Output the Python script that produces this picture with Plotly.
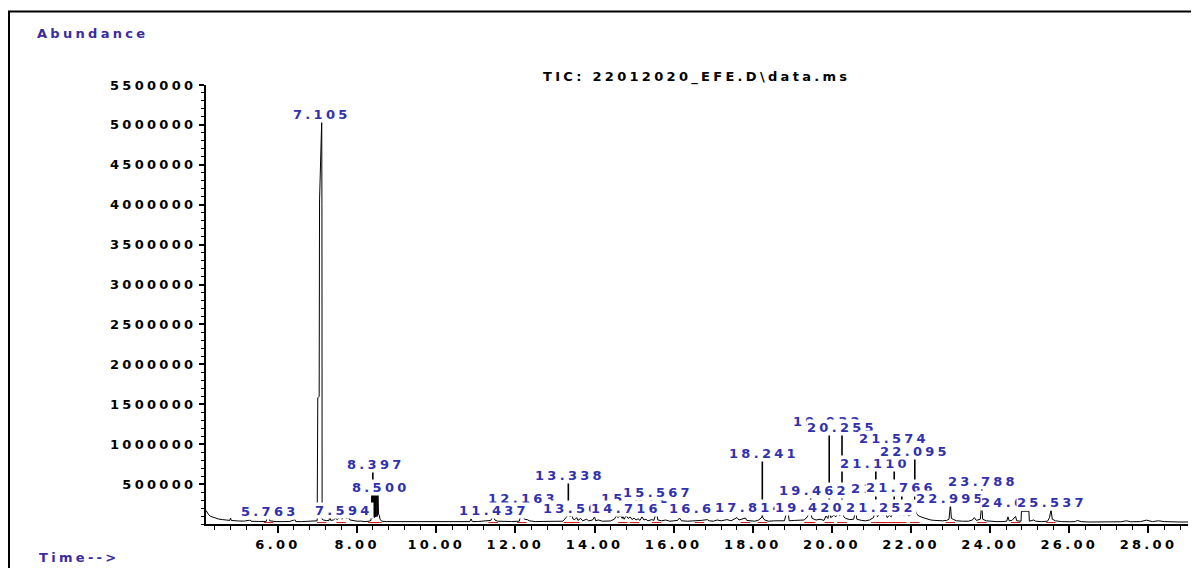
import numpy as np
import plotly.graph_objects as go

# ---------------- data ----------------
rt_min = [
    4.18, 4.20, 4.25, 4.30, 4.40, 4.50, 4.60, 4.70, 4.78, 4.80, 4.82, 5.00, 5.15, 5.30, 5.32, 5.50,
    5.70, 5.74, 5.763, 5.79, 5.95, 6.15, 6.30, 6.43, 6.45, 6.60, 6.80, 6.99,
    7.005, 7.04, 7.05, 7.105, 7.110, 7.112, 7.115, 7.15, 7.22, 7.29, 7.31, 7.33, 7.40, 7.45, 7.50,
    7.55, 7.594, 7.62, 7.68, 7.72, 7.78, 7.82, 7.90, 8.00, 8.10, 8.20, 8.30, 8.35,
    8.37, 8.38, 8.39, 8.40, 8.41, 8.42, 8.43, 8.44, 8.45, 8.46, 8.47, 8.48, 8.49, 8.50, 8.51, 8.52,
    8.53, 8.54, 8.56, 8.58, 8.62, 8.75, 8.90, 9.10, 9.30, 9.50, 9.70, 9.90, 10.10, 10.30, 10.50,
    10.70, 10.85, 10.88, 10.91, 11.05, 11.20, 11.38, 11.437, 11.48, 11.55, 11.70, 11.90, 12.10,
    12.13, 12.163, 12.20, 12.23, 12.30, 12.35, 12.50, 12.70, 12.90, 13.10, 13.20, 13.28, 13.338,
    13.38, 13.42, 13.46, 13.50, 13.55, 13.58, 13.65, 13.70, 13.80, 13.85, 13.95, 14.00, 14.03,
    14.10, 14.20, 14.30, 14.40, 14.50, 14.55, 14.60, 14.65, 14.70, 14.716, 14.75, 14.80, 14.85,
    14.90, 14.95, 15.00, 15.05, 15.10, 15.15, 15.20, 15.25, 15.30, 15.35, 15.45, 15.50, 15.567,
    15.60, 15.70, 15.80, 15.90, 16.00, 16.10, 16.15, 16.20, 16.35, 16.50, 16.60, 16.70, 16.85,
    16.90, 17.00, 17.10, 17.20, 17.35, 17.45, 17.55, 17.60, 17.65, 17.75, 17.814, 17.85, 17.95,
    18.05, 18.15, 18.241, 18.30, 18.40, 18.55, 18.70, 18.80, 18.88, 18.92, 19.05, 19.15, 19.30,
    19.38, 19.42, 19.462, 19.50, 19.60, 19.70, 19.80, 19.85, 19.90, 19.932, 19.97, 20.05, 20.10,
    20.15, 20.20, 20.255, 20.30, 20.35, 20.45, 20.55, 20.60, 20.63, 20.75, 20.85, 20.95, 21.05,
    21.11, 21.15, 21.20, 21.252, 21.30, 21.352, 21.40, 21.45, 21.50, 21.574, 21.62, 21.68, 21.72,
    21.766, 21.82, 21.88, 21.94, 22.00, 22.05, 22.095, 22.15, 22.20, 22.30, 22.40, 22.50, 22.60,
    22.70, 22.80, 22.90, 22.96, 22.995, 23.02, 23.08, 23.15, 23.30, 23.45, 23.55, 23.60, 23.65,
    23.75, 23.788, 23.81, 23.90, 24.00, 24.15, 24.30, 24.42, 24.45, 24.48, 24.55, 24.60, 24.643,
    24.67, 24.72, 24.78, 24.79, 24.98, 24.99, 25.10, 25.15, 25.30, 25.45, 25.50, 25.537, 25.57,
    25.65, 25.80, 26.00, 26.15, 26.20, 26.30, 26.50, 26.80, 27.00, 27.30, 27.45, 27.55, 27.80,
    27.95, 28.10, 28.25, 28.40, 28.60, 28.80, 29.00,
]
abundance_k = [
    170, 150, 115, 95, 75, 62, 55, 48, 45, 75, 44, 38, 36, 50, 34, 32,
    32, 95, 110, 40, 30, 30, 32, 55, 30, 30, 32, 40,
    1580, 1600, 4060, 5060, 4000, 1580, 60, 50, 42, 45, 100, 45, 50, 72, 55,
    82, 95, 60, 110, 68, 85, 50, 40, 35, 36, 30, 35, 45,
    390, 70, 392, 85, 388, 90, 386, 80, 390, 88, 388, 92, 390, 393, 95, 389,
    385, 125, 110, 60, 35, 30, 30, 28, 29, 30, 28, 28, 29, 30, 28,
    30, 30, 65, 30, 31, 35, 45, 110, 50, 35, 30, 31, 35,
    110, 115, 108, 60, 55, 40, 30, 32, 30, 31, 35, 80, 120,
    90, 115, 60, 55, 80, 45, 70, 40, 60, 40, 50, 90, 40,
    50, 35, 40, 38, 60, 100, 80, 110, 70, 95, 60, 105, 70,
    90, 55, 75, 50, 65, 45, 90, 50, 60, 40, 55, 45, 160,
    50, 40, 50, 35, 40, 45, 75, 40, 35, 40, 35, 45, 55,
    40, 35, 50, 40, 55, 40, 70, 80, 50, 60, 75, 45, 40,
    35, 50, 90, 50, 35, 40, 35, 40, 200, 40, 45, 45, 50,
    90, 140, 150, 70, 50, 60, 45, 100, 70, 160, 80, 110, 90,
    130, 100, 180, 90, 70, 55, 60, 170, 60, 45, 40, 50, 80,
    180, 90, 120, 190, 110, 140, 80, 110, 90, 230, 120, 150, 110,
    170, 110, 140, 100, 120, 150, 190, 120, 100, 80, 60, 50, 45,
    40, 40, 45, 60, 250, 70, 55, 40, 35, 35, 50, 80, 45,
    60, 250, 60, 40, 35, 30, 30, 35, 90, 40, 45, 80, 95,
    40, 35, 35, 160, 160, 35, 50, 35, 30, 35, 80, 180, 60,
    40, 30, 28, 30, 45, 30, 25, 25, 25, 28, 40, 28, 30,
    48, 30, 40, 30, 25, 25, 25,
]
abundance = [v * 1000 for v in abundance_k]

# peak labels, listed in the order they are drawn
label_text = ["5.763", "7.105", "7.594", "8.397", "8.500", "12.163", "11.437", "13.338",
              "13.502", "15.012", "14.716", "15.567", "16.652", "17.814", "18.241", "19.420",
              "19.462", "19.932", "20.255", "21.110", "21.252", "21.352", "21.574", "21.766",
              "22.095", "22.995", "23.788", "24.643", "25.537"]
label_x_min = [5.80, 7.11, 7.67, 8.48, 8.60, 12.19, 11.46, 13.38,
               13.58, 15.04, 14.79, 15.60, 16.76, 17.92, 18.28, 19.44,
               19.54, 19.89, 20.25, 21.10, 21.23, 21.36, 21.58, 21.74,
               22.09, 23.02, 23.83, 24.64, 25.55]
label_level = [162000, 5125000, 175000, 750000, 462000, 325000, 175000, 612000,
               200000, 325000, 200000, 400000, 188000, 212000, 888000, 212000,
               425000, 1288000, 1212000, 762000, 212000, 450000, 1075000, 462000,
               912000, 325000, 538000, 275000, 275000]
label_has_line = [False, False, False, True, False, False, False, True,
                  False, False, False, False, False, False, True, False,
                  True, True, True, True, False, False, True, True,
                  True, False, True, False, False]

y_tick_values = [500000, 1000000, 1500000, 2000000, 2500000, 3000000,
                 3500000, 4000000, 4500000, 5000000, 5500000]
y_tick_text = ["500000", "1000000", "1500000", "2000000", "2500000", "3000000",
               "3500000", "4000000", "4500000", "5000000", "5500000"]
x_tick_values = [6, 8, 10, 12, 14, 16, 18, 20, 22, 24, 26, 28]
x_tick_text = ["6.00", "8.00", "10.00", "12.00", "14.00", "16.00", "18.00",
               "20.00", "22.00", "24.00", "26.00", "28.00"]

title_text = "TIC: 22012020_EFE.D\\data.ms"
y_title_text = "Abundance"
x_title_text = "Time-->"

# ---------------- figure ----------------
FONT = "DejaVu Sans"
FS = 13
WEIGHT = "bold"
LABEL_BLUE = "#3030b0"
AXIS_TITLE_BLUE = "#3a2ca0"

fig = go.Figure()

# connector lines from peak apex up to its label
cx, cy = [], []
for txt, lev, has in zip(label_text, label_level, label_has_line):
    if has:
        rt = float(txt)
        top = float(np.interp(rt, rt_min, abundance))
        cx += [rt, rt, None]
        cy += [top, lev, None]
fig.add_trace(go.Scatter(x=cx, y=cy, mode="lines",
                         line=dict(color="black", width=1.6), hoverinfo="skip"))

# chromatogram
fig.add_trace(go.Scatter(x=rt_min, y=abundance, mode="lines",
                         line=dict(color="black", width=1), hoverinfo="skip"))

# red integration marks under each labelled peak
rx, ry = [], []
for txt in label_text:
    rt = float(txt)
    rx += [rt - 0.12, rt + 0.12, None]
    ry += [18000, 18000, None]
fig.add_trace(go.Scatter(x=rx, y=ry, mode="lines",
                         line=dict(color="#d01818", width=1), hoverinfo="skip"))

annotations = []
for txt, lx, lev in zip(label_text, label_x_min, label_level):
    annotations.append(dict(x=lx, y=lev, xref="x", yref="y", text=txt, showarrow=False,
                            xanchor="center", yanchor="middle", bgcolor="white", borderpad=0,
                            font=dict(family=FONT, size=FS, color=LABEL_BLUE, weight=WEIGHT)))

annotations.append(dict(x=0.499, y=1.018, xref="paper", yref="paper", text=title_text,
                        showarrow=False, xanchor="center", yanchor="middle",
                        font=dict(family=FONT, size=FS, color="black", weight=WEIGHT)))
annotations.append(dict(x=-0.1741, y=1.118, xref="paper", yref="paper", text=y_title_text,
                        showarrow=False, xanchor="left", yanchor="middle",
                        font=dict(family=FONT, size=FS, color=AXIS_TITLE_BLUE, weight=WEIGHT)))
annotations.append(dict(x=-0.1721, y=-0.0774, xref="paper", yref="paper", text=x_title_text,
                        showarrow=False, xanchor="left", yanchor="middle",
                        font=dict(family=FONT, size=FS, color=AXIS_TITLE_BLUE, weight=WEIGHT)))

# the page body has an 8 px margin, so the figure is sized/offset to compensate
fig.update_layout(
    width=1191, height=560, autosize=False,
    margin=dict(l=198, r=11, t=77, b=44, pad=0),
    paper_bgcolor="white", plot_bgcolor="white",
    showlegend=False,
    annotations=annotations,
    shapes=[dict(type="rect", xref="paper", yref="paper",
                 x0=-0.2006, x1=1.0092, y0=-0.25, y1=1.1674,
                 line=dict(color="black", width=2), fillcolor="rgba(0,0,0,0)", layer="above")],
    xaxis=dict(range=[4.18, 29.0], tickmode="array", tickvals=x_tick_values, ticktext=x_tick_text,
               ticks="outside", ticklen=7, tickwidth=1.5, tickcolor="black",
               showline=True, linecolor="black", linewidth=2, mirror=False,
               showgrid=False, zeroline=False,
               tickfont=dict(family=FONT, size=FS, color="black", weight=WEIGHT),
               minor=dict(tickmode="linear", tick0=0, dtick=0.4, ticks="outside",
                          ticklen=4, tickwidth=1, tickcolor="black", showgrid=False)),
    yaxis=dict(range=[0, 5500000], tickmode="array", tickvals=y_tick_values, ticktext=y_tick_text,
               ticks="outside", ticklen=5, tickwidth=1.5, tickcolor="black",
               showline=True, linecolor="black", linewidth=2,
               showgrid=False, zeroline=False,
               tickfont=dict(family=FONT, size=FS, color="black", weight=WEIGHT),
               minor=dict(tickmode="linear", tick0=0, dtick=100000, ticks="outside",
                          ticklen=3, tickwidth=1, tickcolor="black", showgrid=False)),
)

# widen the lettering like the instrument printout; re-plot so text boxes are measured with it
post_script = """
var gd = document.getElementById('{plot_id}');
if (!window.__spacingDone) {
  window.__spacingDone = true;
  var st = document.createElement('style');
  st.textContent = 'svg text { letter-spacing: 3.3px; }';
  document.head.appendChild(st);
  var data = JSON.parse(JSON.stringify(gd.data));
  var layout = JSON.parse(JSON.stringify(gd.layout).split('DejaVu Sans').join('DejaVu Sans, sans-serif'));
  Plotly.newPlot(gd, data, layout, {displayModeBar: false});
}
"""

fig.write_html("out.html", config={"displayModeBar": False}, post_script=post_script)
